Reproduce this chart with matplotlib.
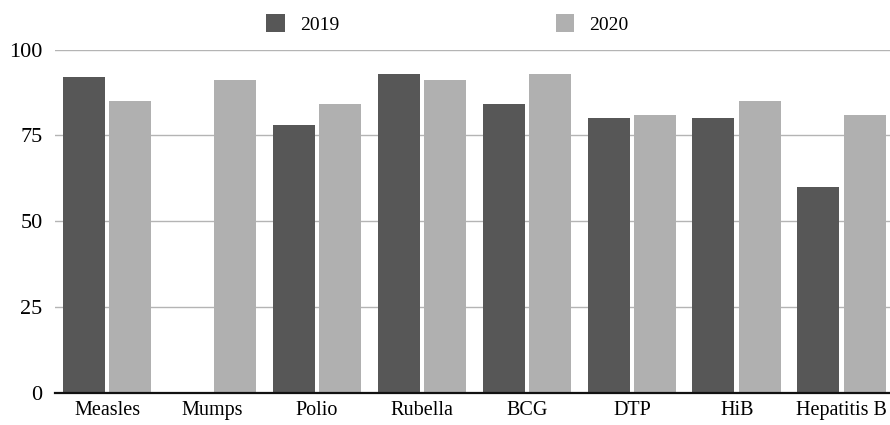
import numpy as np
import matplotlib.pyplot as plt
from matplotlib.patches import Patch

plt.rcParams['font.family'] = ['Liberation Serif', 'DejaVu Serif']

vaccines = ['Measles', 'Mumps', 'Polio', 'Rubella', 'BCG', 'DTP', 'HiB', 'Hepatitis B']
coverage_2019 = [92, 0, 78, 93, 84, 80, 80, 60]
coverage_2020 = [85, 91, 84, 91, 93, 81, 85, 81]

dark = '#575757'
light = '#b0b0b0'

fig = plt.figure(figsize=(8.9, 4.25), dpi=100)
ax = fig.add_axes([0.062, 0.0753, 0.938, 0.8082])

x = np.arange(len(vaccines))
w = 0.4
ax.bar(x - 0.222, coverage_2019, width=w, color=dark, zorder=2)
ax.bar(x + 0.222, coverage_2020, width=w, color=light, zorder=2)

ax.set_ylim(0, 100)
ax.set_xlim(-0.495, 7.46)
ax.set_yticks([0, 25, 50, 75, 100])
ax.yaxis.grid(True, color='#b4b4b4', linewidth=1, zorder=0)
ax.set_xticks(x)
ax.set_xticklabels(vaccines, fontsize=14.5)
ax.tick_params(axis='y', length=0, labelsize=16, pad=9)
ax.tick_params(axis='x', length=0, pad=6)
for s in ['top', 'right', 'left']:
    ax.spines[s].set_visible(False)
ax.spines['bottom'].set_color('#111111')
ax.spines['bottom'].set_linewidth(1.6)
ax.spines['bottom'].set_zorder(3)

handles = [Patch(facecolor=dark, label='2019'), Patch(facecolor=light, label='2020')]
fig.legend(handles=handles, loc='center', bbox_to_anchor=(0.503, 0.9435), ncol=2,
           frameon=False, fontsize=14, handlelength=0.95, handleheight=1.0,
           handletextpad=0.8, columnspacing=11.1)

fig.savefig('out.png', dpi=100)
